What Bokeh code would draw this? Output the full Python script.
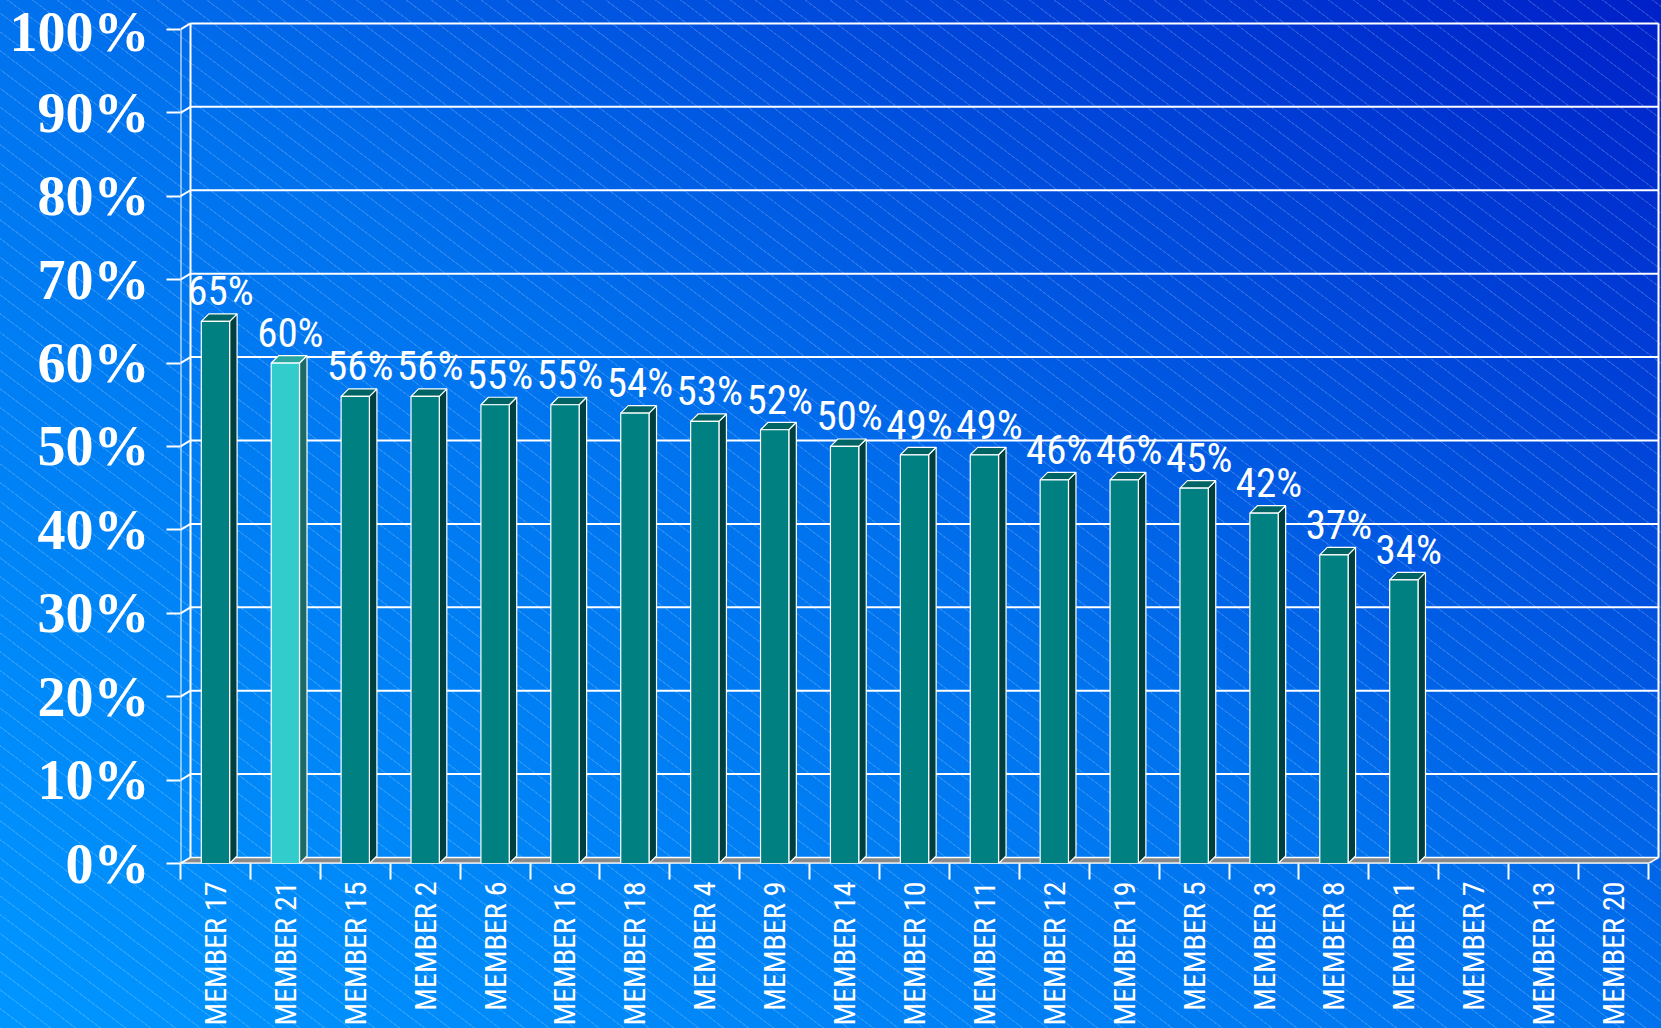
import math
from bokeh.plotting import figure
from bokeh.models import Range1d, FixedTicker, GlobalInlineStyleSheet
from bokeh.core.properties import value
from bokeh.embed import file_html
from bokeh.resources import INLINE

# ---------------- data ----------------
categories = ["MEMBER 17", "MEMBER 21", "MEMBER 15", "MEMBER 2", "MEMBER 6", "MEMBER 16",
              "MEMBER 18", "MEMBER 4", "MEMBER 9", "MEMBER 14", "MEMBER 10", "MEMBER 11",
              "MEMBER 12", "MEMBER 19", "MEMBER 5", "MEMBER 3", "MEMBER 8", "MEMBER 1",
              "MEMBER 7", "MEMBER 13", "MEMBER 20"]
scores = [65, 60, 56, 56, 55, 55, 54, 53, 52, 50, 49, 49, 46, 46, 45, 42, 37, 34, None, None, None]
y_ticks = [0, 10, 20, 30, 40, 50, 60, 70, 80, 90, 100]
y_tick_labels = ["0%", "10%", "20%", "30%", "40%", "50%", "60%", "70%", "80%", "90%", "100%"]
highlight = "MEMBER 21"

# ---------------- geometry ----------------
W, H = 1661, 1028
LEFT, BOTTOM = 180, 162
FW, FH = W - LEFT, H - BOTTOM
DEPTH_X, DEPTH_Y = 10.0, 6.0      # wall depth (px)
BAR_DX, BAR_DY = 7.5, 7.5         # bar depth (px)
TOP_PAD = 29.0                    # px from frame top to the 100% line
n = len(categories)
cw = (FW - DEPTH_X - 3) / n
ypx = (FH - TOP_PAD) / 100.0
x_end = FW / cw
y_end = FH / ypx
ddx, ddy = DEPTH_X / cw, DEPTH_Y / ypx
bdx, bdy = BAR_DX / cw, BAR_DY / ypx
bw = 28.3 / cw

NARROW = "Roboto Condensed"

p = figure(width=W, height=H, x_range=Range1d(0, x_end), y_range=Range1d(0, y_end),
           output_backend="svg", toolbar_location=None,
           min_border_left=LEFT, min_border_bottom=BOTTOM, min_border_top=0, min_border_right=0)
p.background_fill_alpha = 0
p.border_fill_alpha = 0
p.outline_line_color = None
p.grid.visible = False

css = """
html {
  background:
    repeating-linear-gradient(37deg, rgba(255,255,255,0.16) 0px, rgba(255,255,255,0.16) 1px,
                              rgba(255,255,255,0) 1.2px, rgba(255,255,255,0) 15px),
    linear-gradient(to top right, #0096ff 0%, #0072ee 50%, #0020c8 100%);
  overflow: hidden;
}
body { background: transparent; overflow: hidden; }
"""
p.stylesheets = [GlobalInlineStyleSheet(css=css)]

# y axis
yax = p.yaxis[0]
yax.ticker = FixedTicker(ticks=y_ticks, minor_ticks=[])
yax.major_label_overrides = {t: l for t, l in zip(y_ticks, y_tick_labels)}
yax.axis_line_color = None
yax.major_tick_out = 14
yax.major_tick_in = 0
yax.major_tick_line_color = "white"
yax.major_tick_line_width = 2
yax.minor_tick_line_color = None
yax.major_label_standoff = 17
yax.major_label_text_font = "Liberation Serif"
yax.major_label_text_font_style = "bold"
yax.major_label_text_font_size = "56px"
yax.major_label_text_color = "white"

# x axis
centers = [i + 0.5 for i in range(n)]
xax = p.xaxis[0]
xax.ticker = FixedTicker(ticks=centers, minor_ticks=list(range(n + 1)))
xax.major_label_overrides = {c: name for c, name in zip(centers, categories)}
xax.axis_line_color = None
xax.major_tick_out = 0
xax.major_tick_in = 0
xax.major_tick_line_color = None
xax.minor_tick_out = 16
xax.minor_tick_in = 0
xax.minor_tick_line_color = "white"
xax.minor_tick_line_width = 2
xax.major_label_orientation = math.pi / 2
xax.major_label_standoff = 2
xax.major_label_text_font = NARROW
xax.major_label_text_font_size = "30px"
xax.major_label_text_color = "white"

# ---------------- walls ----------------
grid_vals = [t for t in y_ticks if t > 0]
p.segment(x0=[ddx] * len(grid_vals), y0=[v + ddy for v in grid_vals],
          x1=[n + ddx] * len(grid_vals), y1=[v + ddy for v in grid_vals],
          line_color="white", line_width=2)
p.segment(x0=[0] * len(y_ticks), y0=y_ticks, x1=[ddx] * len(y_ticks), y1=[v + ddy for v in y_ticks],
          line_color="white", line_width=2)
p.segment(x0=[ddx, n + ddx], y0=[ddy, ddy], x1=[ddx, n + ddx], y1=[100 + ddy, 100 + ddy],
          line_color="white", line_width=2)
p.patch(x=[0, n, n + ddx, ddx], y=[0, 0, ddy, ddy], fill_color="#8a8a8a",
        line_color="white", line_width=1.5)
p.segment(x0=[0, 0], y0=[0, 0], x1=[0, n], y1=[100, 0], line_color="white", line_width=2)

# ---------------- bars ----------------
bx, bv, fcol, scol, tcol = [], [], [], [], []
side_xs, side_ys, top_xs, top_ys = [], [], [], []
for c, name, v in zip(centers, categories, scores):
    if not v:
        continue
    hi = name == highlight
    x0, x1 = c - bw / 2, c + bw / 2
    bx.append(c)
    bv.append(v)
    fcol.append("#33cccc" if hi else "#008080")
    scol.append("#1c6a66" if hi else "#003f3f")
    tcol.append("#2aa6a0" if hi else "#006464")
    side_xs.append([x1, x1 + bdx, x1 + bdx, x1])
    side_ys.append([0, bdy, v + bdy, v])
    top_xs.append([x0, x1, x1 + bdx, x0 + bdx])
    top_ys.append([v, v, v + bdy, v + bdy])

p.patches(xs=side_xs, ys=side_ys, fill_color=scol, line_color="white", line_width=1.2)
p.patches(xs=top_xs, ys=top_ys, fill_color=tcol, line_color="white", line_width=1.2)
p.vbar(x=bx, top=bv, bottom=0, width=bw, fill_color=fcol, line_color="white", line_width=1.2)

# data labels
p.text(x=bx, y=bv, text=[f"{v}%" for v in bv], x_offset=5, y_offset=-30,
       text_font=value(NARROW), text_font_size="41px", text_color="white",
       text_align="center", text_baseline="alphabetic")

open("out.html", "w").write(file_html(p, INLINE))
